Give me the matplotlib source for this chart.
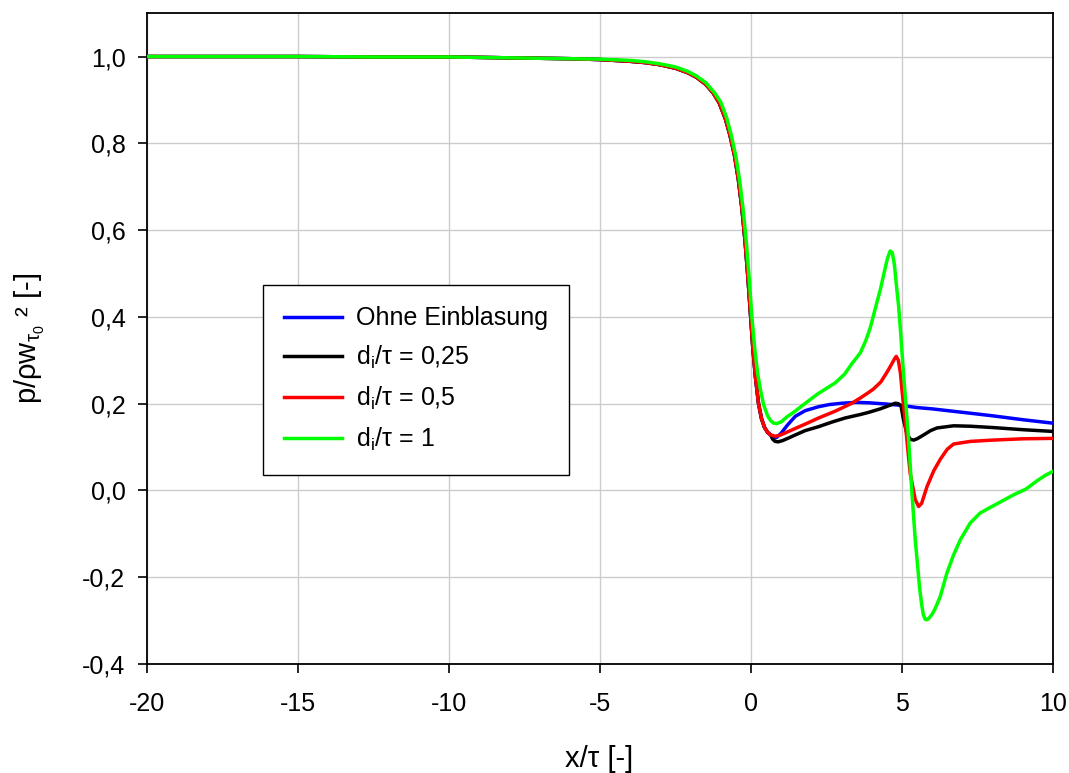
import matplotlib
matplotlib.use('Agg')
import matplotlib.pyplot as plt

plt.rcParams['font.family'] = ['Liberation Sans', 'DejaVu Sans']
plt.rcParams['mathtext.fontset'] = 'custom'
plt.rcParams['mathtext.rm'] = 'Liberation Sans'
plt.rcParams['mathtext.it'] = 'Liberation Sans'

# shared approach region (blue, black, red lie on top of each other there)
drop_x = [-20, -17.5, -15, -12.5, -10, -8, -6, -5, -4, -3.5, -3, -2.5, -2.1, -1.8, -1.5,
          -1.25, -1.05, -0.85, -0.7, -0.55, -0.42, -0.3, -0.2, -0.1, -0.02, 0.06, 0.15,
          0.25, 0.35, 0.45, 0.55, 0.65]
drop_y = [1.0, 1.0, 1.0, 0.999, 0.999, 0.997, 0.995, 0.993, 0.989, 0.986, 0.981, 0.973,
          0.963, 0.952, 0.936, 0.916, 0.893, 0.857, 0.820, 0.774, 0.718, 0.650, 0.578,
          0.49, 0.41, 0.33, 0.26, 0.2, 0.165, 0.145, 0.134, 0.128]

blue_x = [0.75, 0.85, 1.0, 1.2, 1.47, 1.8, 2.24, 2.6, 3.01, 3.5, 3.9, 4.5, 4.99, 5.5,
          6.0, 6.5, 7.26, 8.0, 9.0, 10]
blue_y = [0.121, 0.122, 0.132, 0.150, 0.171, 0.184, 0.193, 0.198, 0.201, 0.203, 0.202,
          0.199, 0.196, 0.191, 0.188, 0.184, 0.178, 0.172, 0.163, 0.155]

black_x = [0.72, 0.8, 0.9, 1.05, 1.25, 1.47, 1.8, 2.24, 2.7, 3.12, 3.62, 3.9, 4.28, 4.55,
           4.78, 4.88, 4.97, 5.05, 5.16, 5.27, 5.39, 5.5, 5.72, 5.95, 6.16, 6.71, 7.26,
           8.0, 9.0, 10]
black_y = [0.118, 0.113, 0.112, 0.115, 0.121, 0.128, 0.138, 0.147, 0.158, 0.167, 0.175,
           0.180, 0.188, 0.195, 0.201, 0.2, 0.194, 0.163, 0.132, 0.118, 0.116, 0.119,
           0.128, 0.138, 0.144, 0.149, 0.148, 0.145, 0.14, 0.136]

red_x = [0.7, 0.8, 0.95, 1.15, 1.47, 1.8, 2.24, 2.8, 3.34, 3.62, 3.9, 4.06, 4.3, 4.5,
         4.65, 4.75, 4.81, 4.88, 4.95, 5.0, 5.11, 5.27, 5.44, 5.55, 5.65, 5.83, 6.05,
         6.27, 6.5, 6.71, 7.26, 8.0, 9.0, 10]
red_y = [0.127, 0.125, 0.127, 0.133, 0.143, 0.153, 0.167, 0.183, 0.201, 0.213, 0.226,
         0.234, 0.25, 0.272, 0.29, 0.303, 0.309, 0.3, 0.27, 0.232, 0.155, 0.04, -0.021,
         -0.037, -0.03, 0.009, 0.045, 0.072, 0.095, 0.107, 0.113, 0.116, 0.119, 0.12]

green_x = [-20, -17.5, -15, -12.5, -10, -8, -6, -5, -4, -3.5, -3, -2.5, -2.1, -1.8, -1.5,
           -1.2, -1.0, -0.8, -0.65, -0.5, -0.37, -0.25, -0.15, -0.05, 0.03, 0.12, 0.22,
           0.32, 0.42, 0.55, 0.65, 0.75, 0.85, 1.0, 1.2, 1.45, 1.69, 2.2, 2.79, 3.1, 3.34,
           3.62, 3.8, 3.95, 4.1, 4.28, 4.42, 4.52, 4.61, 4.68, 4.75, 4.82, 4.89, 4.97,
           5.05, 5.14, 5.22, 5.33, 5.44, 5.52, 5.58, 5.65, 5.71, 5.77, 5.83, 5.9, 6.0,
           6.1, 6.27, 6.49, 6.7, 6.93, 7.26, 7.59, 7.9, 8.3, 8.7, 9.1, 9.47, 9.75, 10]
green_y = [1.0, 1.0, 1.0, 0.999, 0.999, 0.997, 0.995, 0.994, 0.991, 0.988, 0.983, 0.976,
           0.966, 0.955, 0.940, 0.916, 0.895, 0.858, 0.818, 0.770, 0.712, 0.642, 0.570,
           0.48, 0.40, 0.33, 0.27, 0.23, 0.197, 0.172, 0.161, 0.155, 0.154, 0.158, 0.170,
           0.182, 0.195, 0.222, 0.248, 0.268, 0.292, 0.317, 0.345, 0.375, 0.415, 0.462,
           0.505, 0.535, 0.552, 0.548, 0.52, 0.47, 0.424, 0.35, 0.27, 0.19, 0.117, -0.006,
           -0.114, -0.175, -0.222, -0.262, -0.287, -0.297, -0.298, -0.294, -0.285,
           -0.272, -0.244, -0.19, -0.15, -0.114, -0.075, -0.052, -0.04, -0.025, -0.01,
           0.003, 0.022, 0.035, 0.044]

labels = ['Ohne Einblasung', r'd$_\mathregular{i}$/τ = 0,25',
          r'd$_\mathregular{i}$/τ = 0,5', r'd$_\mathregular{i}$/τ = 1']

xticks = [-20, -15, -10, -5, 0, 5, 10]
yticks = [-0.4, -0.2, 0.0, 0.2, 0.4, 0.6, 0.8, 1.0]
ytick_labels = ['-0,4', '-0,2', '0,0', '0,2', '0,4', '0,6', '0,8', '1,0']

fig = plt.figure(figsize=(10.69, 7.73), dpi=100)
ax = fig.add_axes([0.1375, 0.141, 0.8475, 0.842])

lw = 2.5
ax.plot(drop_x + blue_x, drop_y + blue_y, color='#0000ff', lw=lw, label=labels[0], zorder=3)
ax.plot(drop_x + black_x, drop_y + black_y, color='black', lw=lw, label=labels[1], zorder=4)
ax.plot(drop_x + red_x, drop_y + red_y, color='#ff0000', lw=lw, label=labels[2], zorder=5)
ax.plot(green_x, green_y, color='#00ff00', lw=lw, label=labels[3], zorder=6)

ax.set_xlim(-20, 10)
ax.set_ylim(-0.4, 1.1)
ax.set_xticks(xticks)
ax.set_xticklabels([str(t) for t in xticks])
ax.set_yticks(yticks)
ax.set_yticklabels(ytick_labels)
ax.grid(True, color='#cccccc', lw=1.0)
ax.set_axisbelow(True)
ax.tick_params(direction='out', length=6.5, width=1.2, labelsize=18,
               top=False, right=False)
ax.tick_params(axis='x', pad=14)
ax.tick_params(axis='y', pad=9)
for s in ax.spines.values():
    s.set_linewidth(1.3)

ax.set_xlabel('x/τ [-]', fontsize=21)
ax.xaxis.set_label_coords(0.499, -0.124)
ax.set_ylabel(r'p/ρw$_{\tau_\mathregular{0}}$ ² [-]', fontsize=21)
ax.yaxis.set_label_coords(-0.11, 0.5)

leg = ax.legend(loc='upper left', bbox_to_anchor=(0.128, 0.582), fontsize=18,
                frameon=True, fancybox=False, framealpha=1, edgecolor='black',
                handlelength=2.3, handletextpad=0.56, labelspacing=0.55,
                borderpad=0.85, borderaxespad=0)
leg.get_frame().set_linewidth(1.0)

fig.savefig('out.png', dpi=100)
